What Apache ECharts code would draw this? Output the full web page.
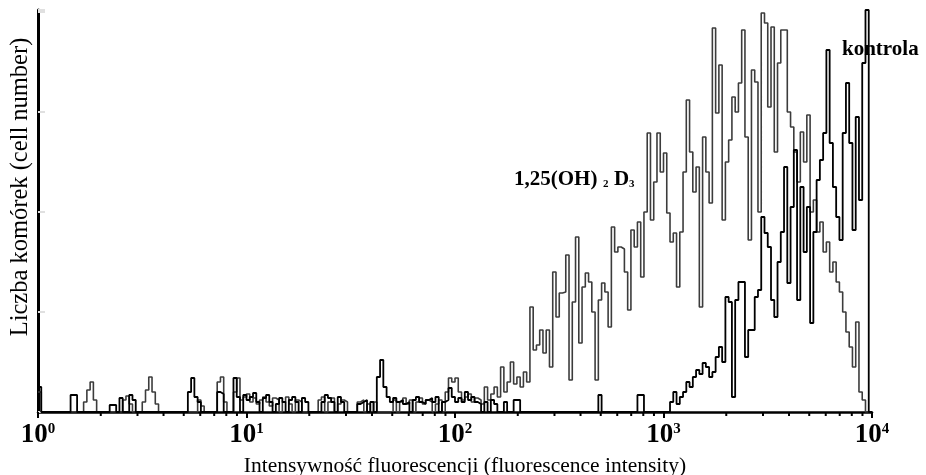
<!DOCTYPE html>
<html>
<head>
<meta charset="utf-8">
<script src="https://cdn.jsdelivr.net/npm/echarts@6/dist/echarts.min.js"></script>
<style>
	html, body { margin: 0; padding: 0; background: #fff; }
	#chart { width: 926px; height: 475px; }
</style>
</head>
<body>
<div id="chart"></div>
<script>
// 256 kanałów na 4 dekady (64 kanały na dekadę)
var channelsPerDecade = 64;

// 1,25(OH)2D3 - szara linia
var vitD = [
	20, 0, 0, 0, 0, 0, 0, 0, 0, 0, 0, 0, 0, 0, 10, 22,
	30, 12, 0, 0, 0, 0, 0, 0, 0, 0, 12, 16, 8, 0, 0, 0,
	10, 22, 35, 20, 8, 0, 0, 0, 0, 0, 0, 0, 0, 0, 0, 0,
	0, 12, 6, 0, 0, 0, 0, 30, 35, 10, 0, 0, 20, 34, 12, 15,
	18, 10, 14, 8, 12, 15, 10, 6, 14, 12, 0, 10, 15, 8, 0, 12,
	10, 0, 0, 0, 0, 0, 12, 15, 0, 10, 14, 0, 8, 12, 10, 0,
	0, 0, 10, 12, 0, 8, 0, 10, 0, 0, 0, 0, 0, 12, 0, 10,
	14, 8, 12, 0, 10, 14, 8, 12, 10, 0, 8, 12, 0, 20, 34, 30,
	34, 20, 12, 15, 18, 10, 14, 12, 8, 25, 12, 18, 25, 15, 45, 20,
	30, 50, 28, 35, 25, 40, 30, 105, 62, 67, 82, 59, 82, 45, 140, 95,
	119, 120, 157, 32, 110, 175, 69, 125, 139, 130, 100, 32, 112, 129, 120, 85,
	185, 160, 165, 163, 140, 102, 182, 165, 190, 135, 200, 279, 192, 230, 279, 240,
	259, 199, 170, 179, 125, 180, 240, 312, 260, 220, 245, 105, 275, 240, 209, 384,
	299, 347, 192, 250, 272, 315, 300, 329, 382, 275, 172, 342, 330, 200, 399, 389,
	305, 385, 260, 349, 382, 382, 300, 285, 260, 230, 280, 250, 297, 200, 212, 180,
	190, 160, 170, 140, 150, 130, 120, 100, 80, 65, 45, 90, 20, 12, 0, 0
];

// kontrola - czarna linia
var kontrola = [
	25, 0, 0, 0, 0, 0, 0, 0, 0, 0, 17, 17, 0, 0, 0, 0,
	0, 0, 0, 0, 0, 0, 7, 7, 0, 14, 0, 0, 17, 12, 0, 0,
	0, 0, 0, 0, 0, 0, 0, 0, 0, 0, 0, 0, 0, 0, 20, 34,
	15, 10, 0, 0, 0, 0, 0, 20, 18, 0, 0, 0, 34, 15, 0, 17,
	12, 15, 19, 10, 0, 14, 17, 10, 0, 8, 14, 10, 0, 12, 15, 10,
	0, 14, 10, 0, 0, 0, 0, 10, 17, 14, 10, 0, 15, 10, 0, 0,
	0, 0, 8, 10, 12, 0, 10, 0, 35, 52, 25, 15, 10, 14, 10, 12,
	8, 10, 0, 12, 15, 10, 8, 12, 14, 10, 15, 0, 10, 12, 24, 15,
	10, 14, 10, 20, 12, 15, 10, 8, 0, 10, 0, 12, 8, 0, 0, 10,
	0, 0, 12, 12, 0, 0, 0, 0, 0, 0, 0, 0, 0, 0, 0, 0,
	0, 0, 0, 0, 0, 0, 0, 0, 0, 0, 0, 0, 17, 0, 0, 0,
	0, 0, 0, 0, 0, 0, 0, 0, 17, 17, 0, 0, 0, 0, 0, 0,
	0, 0, 10, 20, 8, 15, 20, 30, 25, 35, 42, 38, 49, 45, 35, 40,
	55, 65, 50, 115, 110, 15, 112, 130, 130, 55, 82, 82, 115, 122, 195, 179,
	165, 112, 95, 150, 180, 245, 129, 205, 262, 112, 225, 160, 205, 89, 180, 232,
	252, 279, 362, 269, 225, 195, 172, 279, 329, 269, 182, 295, 212, 349, 402, 0
];

// drobne kreski osi X (2..9 w każdej dekadzie)
var minorTicks = [
	2, 3, 4, 5, 6, 7, 8, 9,
	20, 30, 40, 50, 60, 70, 80, 90,
	200, 300, 400, 500, 600, 700, 800, 900,
	2000, 3000, 4000, 5000, 6000, 7000, 8000, 9000
];

var serif = 'Liberation Serif, Times New Roman, serif';

function toSteps(values) {
	let out = [];
	for (let i = 0; i < values.length; i++) {
		out.push([Math.pow(10, i / channelsPerDecade), values[i]]);
	}
	out.push([Math.pow(10, values.length / channelsPerDecade), 0]);
	return out;
}

var chart = echarts.init(document.getElementById('chart'));

var option = {
	animation: false,
	backgroundColor: '#fff',
	grid: {
		left: 38,
		right: 54,
		top: 10,
		bottom: 63
	},
	xAxis: {
		type: 'log',
		logBase: 10,
		min: 1,
		max: 10000,
		axisLine: {
			lineStyle: { color: '#000', width: 2.5 }
		},
		axisTick: {
			show: true,
			length: 6,
			lineStyle: { color: '#000', width: 2 }
		},
		splitLine: { show: false },
		axisLabel: {
			margin: 10,
			formatter: function(value) {
				let e = Math.round(Math.log(value) / Math.LN10);
				return '{b|10}{s|' + e + '}';
			},
			rich: {
				b: { fontFamily: serif, fontWeight: 'bold', fontSize: 27, color: '#000', lineHeight: 27 },
				s: { fontFamily: serif, fontWeight: 'bold', fontSize: 15, color: '#000', verticalAlign: 'top', lineHeight: 15 }
			}
		}
	},
	yAxis: {
		type: 'value',
		min: 0,
		max: 402,
		interval: 100,
		axisLine: {
			show: true,
			lineStyle: { color: '#000', width: 3 }
		},
		axisTick: {
			show: true,
			inside: true,
			length: 7,
			lineStyle: { color: '#e0e0e0', width: 2 }
		},
		axisLabel: { show: false },
		splitLine: { show: false }
	},
	graphic: [{
			type: 'text',
			z: 0,
			x: 465,
			y: 466,
			style: {
				text: 'Intensywność fluorescencji (fluorescence intensity)',
				font: '21.5px ' + serif,
				fill: '#000',
				textAlign: 'center',
				textVerticalAlign: 'middle'
			}
		},
		{
			type: 'text',
			z: 0,
			x: 21,
			y: 187,
			rotation: Math.PI / 2,
			style: {
				text: 'Liczba komórek (cell number)',
				font: '24.5px ' + serif,
				fill: '#000',
				textAlign: 'center',
				textVerticalAlign: 'middle'
			}
		},
		{
			type: 'text',
			z: 0,
			x: 842,
			y: 50,
			style: {
				text: 'kontrola',
				font: 'bold 21px ' + serif,
				fill: '#000',
				textVerticalAlign: 'middle'
			}
		},
		{
			type: 'text',
			z: 0,
			x: 514,
			y: 178,
			style: {
				text: '{m|1,25(OH)}{i|  2  }{m|D}{i|3}',
				textVerticalAlign: 'middle',
				rich: {
					m: { fontFamily: serif, fontWeight: 'bold', fontSize: 21, fill: '#000', lineHeight: 24, verticalAlign: 'bottom' },
					i: { fontFamily: serif, fontWeight: 'bold', fontSize: 11, fill: '#000', lineHeight: 14, verticalAlign: 'bottom' }
				}
			}
		}
	],
	series: [{
			name: '1,25(OH)2D3',
			type: 'line',
			step: 'end',
			showSymbol: false,
			z: 3,
			data: toSteps(vitD),
			lineStyle: { color: '#3c3c3c', width: 1.6 }
		},
		{
			name: 'kontrola',
			type: 'line',
			step: 'end',
			showSymbol: false,
			z: 4,
			data: toSteps(kontrola),
			lineStyle: { color: '#000', width: 1.8 }
		},
		{
			type: 'custom',
			silent: true,
			clip: false,
			z: 5,
			data: minorTicks,
			renderItem: function(params, api) {
				let p = api.coord([api.value(0), 0]);
				return {
					type: 'line',
					shape: { x1: p[0], y1: p[1], x2: p[0], y2: p[1] + 4 },
					style: { stroke: '#000', lineWidth: 2 }
				};
			}
		}
	]
};

chart.setOption(option);
</script>
</body>
</html>
